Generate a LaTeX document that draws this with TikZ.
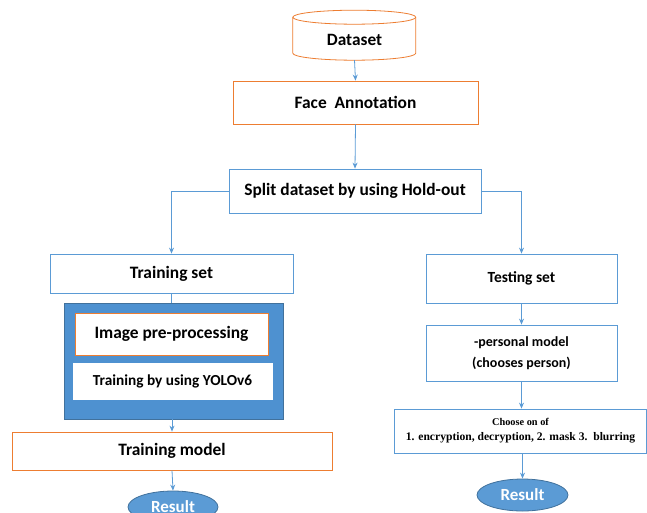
\documentclass[tikz,border=0pt]{standalone}
\usepackage{fontspec}
\setmainfont{Carlito}
\newfontfamily\tnr{Liberation Serif}
\usetikzlibrary{arrows.meta,shapes.geometric}
\definecolor{orng}{RGB}{237,125,49}
\definecolor{lblue}{RGB}{91,155,213}
\definecolor{cfill}{RGB}{78,145,208}
\definecolor{dblue}{RGB}{65,113,156}
\begin{document}
\begin{tikzpicture}[x=1pt,y=-1pt,
  box/.style={draw=#1, line width=0.8pt, fill=white, rectangle, inner sep=0pt, align=center, font=\bfseries\fontsize{17.4}{20}\selectfont},
  box/.default=lblue,
  res/.style={ellipse, draw=dblue, line width=0.8pt, fill=lblue, text=white, inner sep=0pt, font=\bfseries\fontsize{17}{20}\selectfont},
  conn/.style={draw=lblue, line width=0.8pt},
  arr/.style={conn, -{Stealth[length=6pt,width=5pt]}}
]
\path[use as bounding box, clip] (0,0) rectangle (647,512);

% Dataset cylinder
\node[inner sep=0pt, minimum width=123pt, minimum height=40pt] (ds) at (354.5,40) {};
\draw[orng, line width=0.8pt, fill=white]
  (ds.south west) ++(0,-7) -- ++(0,-36)
  arc[start angle=180, end angle=0, x radius=61.5pt, y radius=7pt]
  -- ++(0,36)
  arc[start angle=0, end angle=-180, x radius=61.5pt, y radius=7pt] -- cycle;
\draw[orng, line width=0.8pt] (ds.south west) ++(0,-43) arc[start angle=180, end angle=360, x radius=61.5pt, y radius=7pt];
\node[inner sep=0pt, font=\bfseries\fontsize{17.3}{20}\selectfont] at (ds.center) {Dataset};

\node[box=orng, minimum width=245pt, minimum height=43pt] (fa) at (355.5,102.5) {Face\ \ Annotation};
\node[box, minimum width=252pt, minimum height=44pt] (split) at (355,191) {Split dataset by using Hold-out};
\node[box, minimum width=243pt, minimum height=39pt] (train) at (171.5,273.5) {Training set};
\node[rectangle, draw=dblue, fill=cfill, line width=0.8pt, minimum width=219pt, minimum height=116pt] (cont) at (173.5,361) {};
\node[box=orng, minimum width=193pt, minimum height=42pt] (pre) at (171.5,334) {Image pre-processing};
\node[box=white, minimum width=199pt, minimum height=36pt, font=\bfseries\fontsize{15.3}{18}\selectfont] (yolo) at (172.5,381) {Training by using YOLOv6};
\node[box=orng, minimum width=320pt, minimum height=38pt] (tm) at (172,451) {Training model};
\node[res, minimum width=90pt, minimum height=32pt] (r1) at (173,507) {Result};

\node[box, minimum width=191pt, minimum height=49pt, font=\bfseries\fontsize{15.5}{18}\selectfont] (test) at (521.5,278.5) {Testing set};
\node[box, minimum width=191pt, minimum height=56pt, font=\bfseries\fontsize{14}{21}\selectfont] (pers) at (521.5,353) {-personal model\\(chooses person)};
\node[box, minimum width=252pt, minimum height=44pt, font=\tnr\bfseries\fontsize{11.6}{15}\selectfont] (choose) at (520.5,431) {{\fontsize{10.3}{13}\selectfont Choose on of}\\1. encryption, decryption, 2. mask 3.\ \ blurring};
\node[res, minimum width=91pt, minimum height=32pt] (r2) at (522.5,495) {Result};

\draw[arr] (ds.south) -- (fa.north);
\draw[arr] (fa.south) -- (split.north);
\draw[arr] (split.west) -| (train.north);
\draw[arr] (split.east) -| (test.north);
\draw[conn] (train.south) -- (train.south |- cont.north);
\draw[arr] (tm.north |- cont.south) -- (tm.north);
\draw[arr] (tm.south) -- (r1.north);
\draw[arr] (test.south) -- (pers.north);
\draw[arr] (pers.south) -- (pers.south |- choose.north);
\draw[arr] (r2.north |- choose.south) -- (r2.north);
\end{tikzpicture}
\end{document}
